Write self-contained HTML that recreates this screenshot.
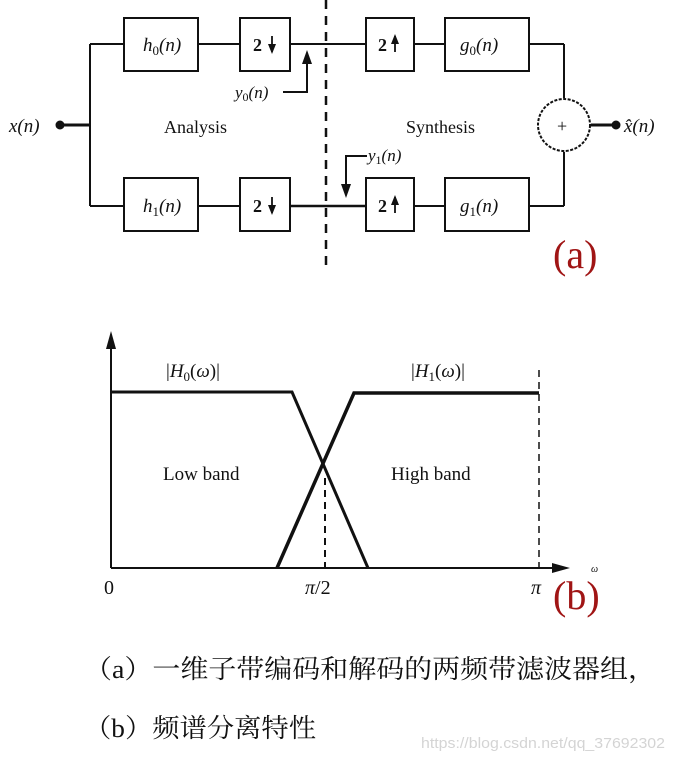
<!DOCTYPE html>
<html><head><meta charset="utf-8"><style>
html,body{margin:0;padding:0;background:#fff;}
svg{display:block;}
.s{font-family:"Liberation Serif",serif;}
</style></head><body>
<svg width="674" height="759" viewBox="0 0 674 759" xmlns="http://www.w3.org/2000/svg">
<g stroke="#111" stroke-width="2" fill="none">
<!-- top row -->
<line x1="90" y1="44" x2="124" y2="44"/>
<line x1="198" y1="44" x2="240" y2="44"/>
<line x1="290" y1="44" x2="366" y2="44"/>
<line x1="414" y1="44" x2="445" y2="44"/>
<line x1="529" y1="44" x2="564" y2="44"/>
<line x1="564" y1="44" x2="564" y2="98"/>
<!-- bottom row -->
<line x1="90" y1="206" x2="124" y2="206"/>
<line x1="198" y1="206" x2="240" y2="206"/>
<line x1="290" y1="206" x2="366" y2="206" stroke-width="2.5"/>
<line x1="414" y1="206" x2="445" y2="206"/>
<line x1="529" y1="206" x2="564" y2="206"/>
<line x1="564" y1="206" x2="564" y2="152"/>
<line x1="90" y1="44" x2="90" y2="206"/>
<line x1="62" y1="125" x2="90" y2="125" stroke-width="3"/>
<line x1="591" y1="125" x2="614" y2="125" stroke-width="3"/>
<!-- boxes -->
<rect x="124" y="18" width="74" height="53"/>
<rect x="240" y="18" width="50" height="53"/>
<rect x="366" y="18" width="48" height="53"/>
<rect x="445" y="18" width="84" height="53"/>
<rect x="124" y="178" width="74" height="53"/>
<rect x="240" y="178" width="50" height="53"/>
<rect x="366" y="178" width="48" height="53"/>
<rect x="445" y="178" width="84" height="53"/>
<circle cx="564" cy="125" r="26" stroke-dasharray="3,1.5"/>
<line x1="326" y1="0" x2="326" y2="270" stroke-dasharray="9,7" stroke-width="2.5"/>
<!-- y0 arrow -->
<polyline points="283,92 307,92 307,58"/>
<!-- y1 arrow -->
<polyline points="367,156 346,156 346,188"/>
</g>
<polygon points="307,50 302,64 312,64" fill="#111"/>
<polygon points="346,198 341,184 351,184" fill="#111"/>
<circle cx="60" cy="125" r="4.5" fill="#111"/>
<circle cx="616" cy="125" r="4.5" fill="#111"/>
<g class="s" fill="#111" font-size="19">
<text x="9" y="132" font-style="italic">x(n)</text>
<text x="624" y="132" font-style="italic">x̂(n)</text>
<text x="164" y="133" font-size="18">Analysis</text>
<text x="406" y="133" font-size="18">Synthesis</text>
<text x="143" y="51" font-style="italic">h<tspan font-size="13" font-style="normal" dy="4">0</tspan><tspan dy="-4">(n)</tspan></text>
<text x="143" y="212" font-style="italic">h<tspan font-size="13" font-style="normal" dy="4">1</tspan><tspan dy="-4">(n)</tspan></text>
<text x="460" y="51" font-style="italic">g<tspan font-size="13" font-style="normal" dy="4">0</tspan><tspan dy="-4">(n)</tspan></text>
<text x="460" y="212" font-style="italic">g<tspan font-size="13" font-style="normal" dy="4">1</tspan><tspan dy="-4">(n)</tspan></text>
<text x="253" y="51" font-weight="bold" font-size="18">2</text>
<text x="253" y="212" font-weight="bold" font-size="18">2</text>
<text x="378" y="51" font-weight="bold" font-size="18">2</text>
<text x="378" y="212" font-weight="bold" font-size="18">2</text>
<text x="235" y="98" font-size="17" font-style="italic">y<tspan font-size="12" font-style="normal" dy="3">0</tspan><tspan dy="-3">(n)</tspan></text>
<text x="368" y="161" font-size="17" font-style="italic">y<tspan font-size="12" font-style="normal" dy="3">1</tspan><tspan dy="-3">(n)</tspan></text>
<text x="557" y="132" font-size="18">+</text>
</g>
<!-- small arrows in down/up samplers -->
<g stroke="#111" stroke-width="1.8">
<line x1="272" y1="36" x2="272" y2="52"/><line x1="272" y1="197" x2="272" y2="213"/>
<line x1="395" y1="36" x2="395" y2="52"/><line x1="395" y1="197" x2="395" y2="213"/>
</g>
<g fill="#111">
<polygon points="272,54 268,44 276,44"/><polygon points="272,215 268,205 276,205"/>
<polygon points="395,34 391,44 399,44"/><polygon points="395,195 391,205 399,205"/>
</g>
<text x="553" y="268" class="s" font-size="40" fill="#a01515">(a)</text>

<!-- chart b -->
<g stroke="#111" fill="none">
<line x1="111" y1="340" x2="111" y2="568" stroke-width="2"/>
<line x1="111" y1="568" x2="560" y2="568" stroke-width="2"/>
<polyline points="111,392 292,392 368,568" stroke-width="3"/>
<polyline points="277,568 354,393 539,393" stroke-width="3.5"/>
<line x1="325" y1="478" x2="325" y2="568" stroke-width="2" stroke-dasharray="7,5"/>
<line x1="539" y1="370" x2="539" y2="568" stroke-width="1.5" stroke-dasharray="7,5"/>
</g>
<polygon points="111,331 106,349 116,349" fill="#111"/>
<polygon points="570,568 552,563 552,573" fill="#111"/>
<g class="s" fill="#111" font-size="19">
<text x="166" y="377">|<tspan font-style="italic">H</tspan><tspan font-size="13" dy="4">0</tspan><tspan dy="-4">(</tspan><tspan font-style="italic">ω</tspan>)|</text>
<text x="411" y="377">|<tspan font-style="italic">H</tspan><tspan font-size="13" dy="4">1</tspan><tspan dy="-4">(</tspan><tspan font-style="italic">ω</tspan>)|</text>
<text x="163" y="480">Low band</text>
<text x="391" y="480">High band</text>
<text x="104" y="594" font-size="20">0</text>
<text x="305" y="594" font-size="20" font-style="italic">π<tspan font-style="normal">/2</tspan></text>
<text x="531" y="594" font-size="20" font-style="italic">π</text>
<text x="591" y="572" font-size="10" font-style="italic">ω</text>
</g>
<text x="553" y="609" class="s" font-size="40" fill="#a01515">(b)</text>

<g font-family="'Liberation Serif','Noto Serif CJK SC',serif" font-size="26" fill="#111">
<text x="84" y="678" textLength="572" lengthAdjust="spacingAndGlyphs">（a）一维子带编码和解码的两频带滤波器组，</text>
<text x="84" y="737" textLength="232" lengthAdjust="spacingAndGlyphs">（b）频谱分离特性</text>
</g>
<text x="421" y="748" font-family="'Liberation Sans',sans-serif" font-size="15" fill="#d4d4d4" textLength="244" lengthAdjust="spacingAndGlyphs">https://blog.csdn.net/qq_37692302</text>
</svg>
</body></html>
